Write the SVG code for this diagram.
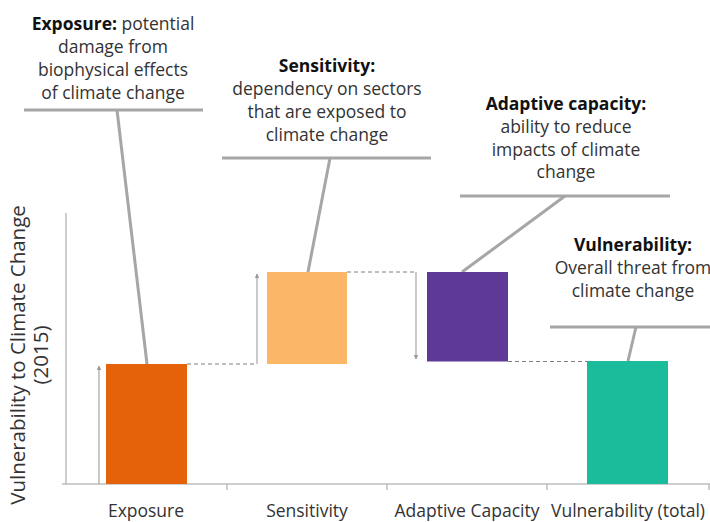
<svg xmlns="http://www.w3.org/2000/svg" width="710" height="522" viewBox="0 0 710 522">
<defs>
<marker id="ah" viewBox="0 0 10 10" refX="9" refY="5" markerWidth="4" markerHeight="4" orient="auto"><path d="M0,0 L10,5 L0,10 z" fill="#999"/></marker>
<style>
text{font-family:"Open Sans","Noto Sans","DejaVu Sans",sans-serif;fill:#333;}
.t{font-size:17.5px;text-anchor:middle;}
.b{font-weight:bold;fill:#111;}
.ax{stroke:#BFBFBF;stroke-width:1.5;fill:none;}
.co{stroke:#A6A6A6;stroke-width:3;fill:none;}
.ld{stroke:#A6A6A6;stroke-width:3;fill:none;}
.ds{stroke:#7F7F7F;stroke-width:1;stroke-dasharray:4,3;fill:none;}
.ar{stroke:#A6A6A6;stroke-width:1.2;fill:none;marker-end:url(#ah);}
.lab{font-size:17.5px;text-anchor:middle;}
.yl{font-size:20.5px;text-anchor:middle;}
</style>
</defs>
<g id="axes">
<path class="ax" d="M66,213 V484 H710"/>
<path class="ax" d="M62,484 H66 M227,484 V490 M387,484 V490 M547,484 V490 M709,484 V490"/>
<text class="yl" transform="translate(25,355) rotate(-90)">Vulnerability to Climate Change</text>
<text class="yl" transform="translate(48,355) rotate(-90)">(2015)</text>
<text class="lab" x="146" y="517">Exposure</text>
<text class="lab" x="307" y="517">Sensitivity</text>
<text class="lab" x="467" y="517">Adaptive Capacity</text>
<text class="lab" x="628" y="517">Vulnerability (total)</text>
</g>
<g id="connectors">
<line class="ar" x1="99" y1="484" x2="99" y2="366"/>
<line class="ar" x1="257" y1="364" x2="257" y2="274"/>
<line class="ar" x1="416" y1="272" x2="416" y2="359"/>
<path class="ds" d="M187,364 H257"/>
<path class="ds" d="M347,272 H416"/>
<path class="ds" d="M508,361.5 H587"/>
<line class="ld" x1="117" y1="110" x2="147" y2="364"/>
<line class="ld" x1="330" y1="158" x2="308" y2="272"/>
<line class="ld" x1="565" y1="196" x2="462" y2="272"/>
<line class="ld" x1="636" y1="327" x2="628" y2="361"/>
</g>
<g id="exposure">
<rect x="106" y="364" width="81" height="120" fill="#E6620A"/>
<path class="co" d="M24,110 H203"/>
<text class="t" x="113" y="30"><tspan class="b">Exposure:</tspan> potential</text>
<text class="t" x="113" y="53">damage from</text>
<text class="t" x="113" y="76">biophysical effects</text>
<text class="t" x="113" y="99">of climate change</text>
</g>
<g id="sensitivity">
<rect x="267" y="272" width="80" height="92" fill="#FBB767"/>
<path class="co" d="M222,158 H431"/>
<text class="t b" x="327" y="72">Sensitivity:</text>
<text class="t" x="327" y="95">dependency on sectors</text>
<text class="t" x="327" y="118">that are exposed to</text>
<text class="t" x="327" y="141">climate change</text>
</g>
<g id="adaptive">
<rect x="427" y="272" width="81" height="89.5" fill="#5E3A96"/>
<path class="co" d="M460,196 H670"/>
<text class="t b" x="566" y="110">Adaptive capacity:</text>
<text class="t" x="566" y="133">ability to reduce</text>
<text class="t" x="566" y="156">impacts of climate</text>
<text class="t" x="566" y="178">change</text>
</g>
<g id="vulnerability">
<rect x="587" y="361" width="81" height="123" fill="#1ABC9C"/>
<path class="co" d="M550,327 H710"/>
<text class="t b" x="633" y="251">Vulnerability:</text>
<text class="t" x="633" y="274">Overall threat from</text>
<text class="t" x="633" y="297">climate change</text>
</g>
</svg>
